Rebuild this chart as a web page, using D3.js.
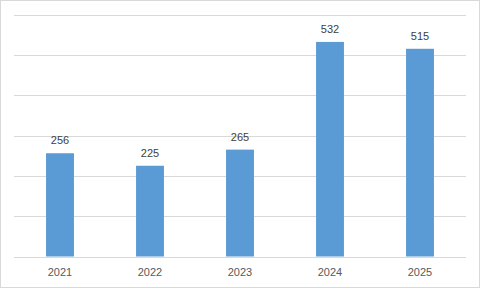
<!DOCTYPE html>
<html>
<head>
<meta charset="utf-8">
<script src="https://cdn.jsdelivr.net/npm/d3@7"></script>
<style>
  body { margin: 0; background: #fff; }
  svg text { font-family: "Liberation Sans", Arial, sans-serif; fill: #404040; }
</style>
</head>
<body>
<svg id="chart" width="480" height="288"></svg>
<script>
var years = ["2021", "2022", "2023", "2024", "2025"];
var values = [256, 225, 265, 532, 515];
var yTicks = [0, 100, 200, 300, 400, 500, 600];

var width = 480;
var height = 288;

var svg = d3.select("#chart");

// outer frame
svg.append("rect")
  .attr("x", 0.5).attr("y", 0.5)
  .attr("width", width - 1).attr("height", height - 1)
  .attr("fill", "#fff")
  .attr("stroke", "#d9d9d9");

var x = d3.scaleBand()
  .domain(years)
  .range([15, 465])
  .paddingInner(0.69)
  .paddingOuter(0.345);

var y = d3.scaleLinear()
  .domain([0, 600])
  .range([256.5, 14.5]);

// gridlines
svg.append("g")
  .selectAll("line")
  .data(yTicks)
  .join("line")
  .attr("x1", 14)
  .attr("x2", 466)
  .attr("y1", function(d) { return Math.round(y(d)) + 0.5; })
  .attr("y2", function(d) { return Math.round(y(d)) + 0.5; })
  .attr("stroke", "#d9d9d9")
  .attr("stroke-width", 1);

// bars
svg.append("g")
  .selectAll("rect")
  .data(values)
  .join("rect")
  .attr("x", function(d, i) { return x(years[i]); })
  .attr("y", function(d) { return y(d); })
  .attr("width", x.bandwidth())
  .attr("height", function(d) { return y(0) - y(d); })
  .attr("fill", "#5b9bd5");

// value labels
svg.append("g")
  .selectAll("text")
  .data(values)
  .join("text")
  .attr("x", function(d, i) { return x(years[i]) + x.bandwidth() / 2; })
  .attr("y", function(d) { return y(d) - 9; })
  .attr("text-anchor", "middle")
  .style("font-size", "11px")
  .text(function(d) { return d; });

// category labels
svg.append("g")
  .selectAll("text")
  .data(years)
  .join("text")
  .attr("x", function(d) { return x(d) + x.bandwidth() / 2; })
  .attr("y", 276)
  .attr("text-anchor", "middle")
  .style("font-size", "11px")
  .style("fill", "#595959")
  .text(function(d) { return d; });
</script>
</body>
</html>
